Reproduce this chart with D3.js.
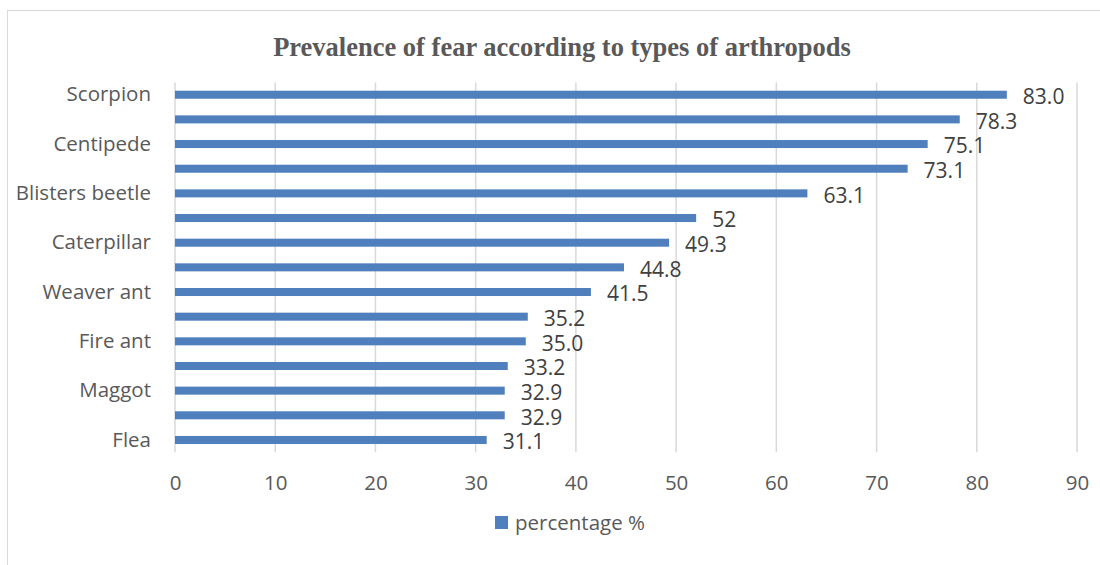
<!DOCTYPE html>
<html>
<head>
<meta charset="utf-8">
<script src="https://cdn.jsdelivr.net/npm/d3@7"></script>
<style>
  html, body { margin: 0; padding: 0; background: #fff; }
  svg { display: block; }
</style>
</head>
<body>
<svg id="chart" width="1100" height="565"></svg>
<script>
// Arthropod categories, top to bottom; only every other one carries an axis label
const categories = ["Scorpion", "", "Centipede", "", "Blisters beetle", "", "Caterpillar", "",
                    "Weaver ant", "", "Fire ant", "", "Maggot", "", "Flea"];
// Prevalence of fear (%)
const values = [83.0, 78.3, 75.1, 73.1, 63.1, 52, 49.3, 44.8, 41.5, 35.2, 35.0, 33.2, 32.9, 32.9, 31.1];
// Printed value labels
const valueLabels = ["83.0", "78.3", "75.1", "73.1", "63.1", "52", "49.3", "44.8", "41.5", "35.2",
                     "35.0", "33.2", "32.9", "32.9", "31.1"];
const xTicks = [0, 10, 20, 30, 40, 50, 60, 70, 80, 90];
const seriesName = "percentage %";
const chartTitle = "Prevalence of fear according to types of arthropods";

const svg = d3.select("#chart");
const sansFont = "'Open Sans', 'Noto Sans', sans-serif";
const barColor = "#4f7fbd";
const textColor = "#595959";

// Outer chart frame
svg.append("rect")
  .attr("x", 7.5).attr("y", 10.5)
  .attr("width", 1100).attr("height", 600)
  .attr("fill", "#fff").attr("stroke", "#d9d9d9").attr("stroke-width", 1);

const plot = { left: 175, right: 1077, top: 82.4, bottom: 452.3 };

const x = d3.scaleLinear().domain([0, 90]).range([plot.left, plot.right]);
const y = d3.scaleBand()
  .domain(d3.range(categories.length))
  .range([plot.top, plot.bottom])
  .paddingInner(0.675)
  .paddingOuter(0.3375);

// Title
svg.append("text")
  .attr("x", 562).attr("y", 56)
  .attr("text-anchor", "middle")
  .attr("font-family", "'Liberation Serif', 'Times New Roman', serif")
  .attr("font-weight", "bold")
  .attr("font-size", 26.5)
  .attr("fill", textColor)
  .text(chartTitle);

// Vertical gridlines
svg.append("g")
  .selectAll("line")
  .data(xTicks)
  .join("line")
  .attr("x1", d => x(d)).attr("x2", d => x(d))
  .attr("y1", plot.top).attr("y2", plot.bottom)
  .attr("stroke", "#d9d9d9").attr("stroke-width", 1.5);

// X tick labels
const xAxis = d3.axisBottom(x).tickValues(xTicks).tickSize(0).tickPadding(0);
const gx = svg.append("g")
  .attr("transform", `translate(0, ${plot.bottom + 24})`)
  .call(xAxis);
gx.select(".domain").remove();
gx.selectAll("text")
  .attr("font-family", sansFont)
  .attr("font-size", 20.5)
  .attr("fill", textColor)
  .attr("dy", "0.35em")
  .attr("y", 7);

// Y category labels
const yAxis = d3.axisLeft(y).tickFormat(i => categories[i]).tickSize(0).tickPadding(0);
const gy = svg.append("g")
  .attr("transform", `translate(${plot.left - 24}, 0)`)
  .call(yAxis);
gy.select(".domain").remove();
gy.selectAll("text")
  .attr("font-family", sansFont)
  .attr("font-size", 20.5)
  .attr("fill", textColor);

// Bars
svg.append("g")
  .selectAll("rect")
  .data(values)
  .join("rect")
  .attr("x", x(0))
  .attr("y", (d, i) => y(i))
  .attr("width", d => x(d) - x(0))
  .attr("height", y.bandwidth())
  .attr("fill", barColor);

// Value labels
svg.append("g")
  .selectAll("text")
  .data(values)
  .join("text")
  .attr("x", d => x(d) + 16)
  .attr("y", (d, i) => y(i) + y.bandwidth() / 2 + 2)
  .attr("dy", "0.35em")
  .attr("font-family", sansFont)
  .attr("font-size", 21)
  .attr("fill", "#404040")
  .text((d, i) => valueLabels[i]);

// Legend
const legend = svg.append("g").attr("transform", "translate(495, 516)");
legend.append("rect")
  .attr("width", 13).attr("height", 13)
  .attr("fill", barColor);
legend.append("text")
  .attr("x", 20).attr("y", 6.5)
  .attr("dy", "0.35em")
  .attr("font-family", sansFont)
  .attr("font-size", 20.5)
  .attr("fill", textColor)
  .text(seriesName);
</script>
</body>
</html>
